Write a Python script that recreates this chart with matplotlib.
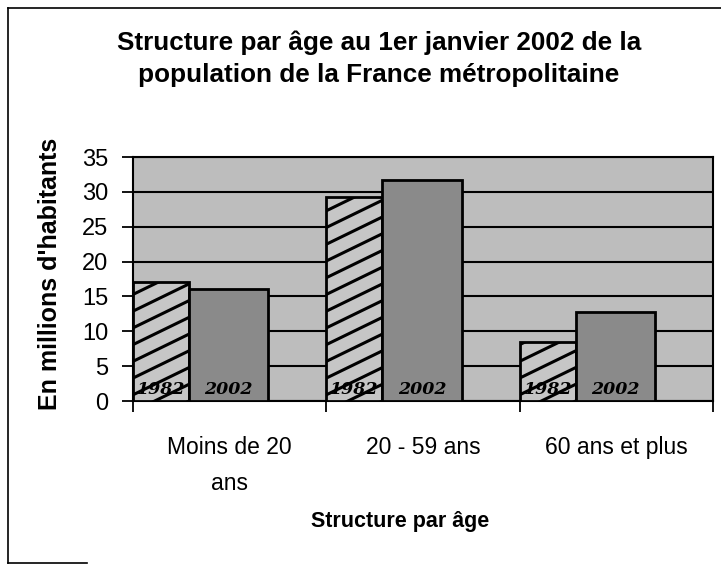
import numpy as np
import matplotlib
matplotlib.use('Agg')
import matplotlib.pyplot as plt
from matplotlib.lines import Line2D

categories = ['Moins de 20\nans', '20 - 59 ans', '60 ans et plus']
pop_1982 = [17.0, 29.3, 8.5]
pop_2002 = [16.0, 31.7, 12.7]
years = ['1982', '2002']

plt.rcParams['font.family'] = ['Liberation Sans', 'DejaVu Sans']

fig = plt.figure(figsize=(7.21, 5.66), dpi=100)
ax = fig.add_axes([133/721, 1 - 401/566, 580/721, 244/566])
ax.set_facecolor('#bdbdbd')

x = np.arange(len(categories))
bars82 = ax.bar(x - 0.5, pop_1982, width=0.29, align='edge', color='#c6c6c6',
                edgecolor='black', linewidth=2, zorder=3)
bars02 = ax.bar(x - 0.21, pop_2002, width=0.41, align='edge', color='#8a8a8a',
                edgecolor='black', linewidth=2, zorder=3)

# diagonal hatching on the 1982 bars, clipped to each bar
slope = 13.5     # y units per category unit (about 27 degrees on screen)
step = 2.4       # vertical spacing between hatch lines
for b in bars82:
    x0, w, h = b.get_x(), b.get_width(), b.get_height()
    for c in np.arange(-slope * w, h + step, step):
        ln, = ax.plot([x0, x0 + w], [c, c + slope * w], color='black',
                      linewidth=2.2, zorder=3.5)
        ln.set_clip_path(b)

# handwritten year marks at the foot of each bar
for b82, b02 in zip(bars82, bars02):
    for b, yr in ((b82, years[0]), (b02, years[1])):
        ax.text(b.get_x() + b.get_width() / 2, 1.6, yr, ha='center', va='center',
                fontsize=12.5, style='italic', fontweight='bold',
                family='DejaVu Serif', zorder=4)

ax.set_ylim(0, 35)
ax.set_yticks(np.arange(0, 36, 5))
ax.set_xlim(-0.5, 2.5)
ax.set_xticks([-0.5, 0.5, 1.5, 2.5])
ax.set_xticklabels([])
ax.set_xticks(x, minor=True)
ax.set_xticklabels(categories, minor=True, fontsize=16.5, linespacing=1.75)
ax.tick_params(axis='x', which='minor', length=0, pad=25)
ax.tick_params(axis='x', which='major', length=8, width=1.3, direction='out')
ax.tick_params(axis='y', length=8, width=1.3, direction='out', pad=10,
               labelsize=17)
ax.yaxis.grid(True, color='black', linewidth=1.5, zorder=1)
ax.set_axisbelow(True)
for s in ax.spines.values():
    s.set_linewidth(1.5)

fig.text(379/721, 1 - 59/566, 'Structure par âge au 1er janvier 2002 de la\npopulation de la France métropolitaine',
         ha='center', va='center', fontsize=18.8, fontweight='bold', linespacing=1.4)
fig.text(50/721, 1 - 274/566, "En millions d'habitants", rotation=90,
         ha='center', va='center', fontsize=18, fontweight='bold')
fig.text(400/721, 1 - 521/566, 'Structure par âge', ha='center', va='center',
         fontsize=15.5, fontweight='bold')

# scanned frame: left, top and bottom edges
fx0, fy0, fy1 = 8/721, 1 - 563/566, 1 - 8/566
for xs, ys in (([fx0, fx0], [fy0, fy1]), ([fx0, 1], [fy1, fy1]), ([fx0, 0.12], [fy0, fy0])):
    fig.lines.append(Line2D(xs, ys, transform=fig.transFigure, color='black', linewidth=1.2))

fig.savefig('out.png', dpi=100)
